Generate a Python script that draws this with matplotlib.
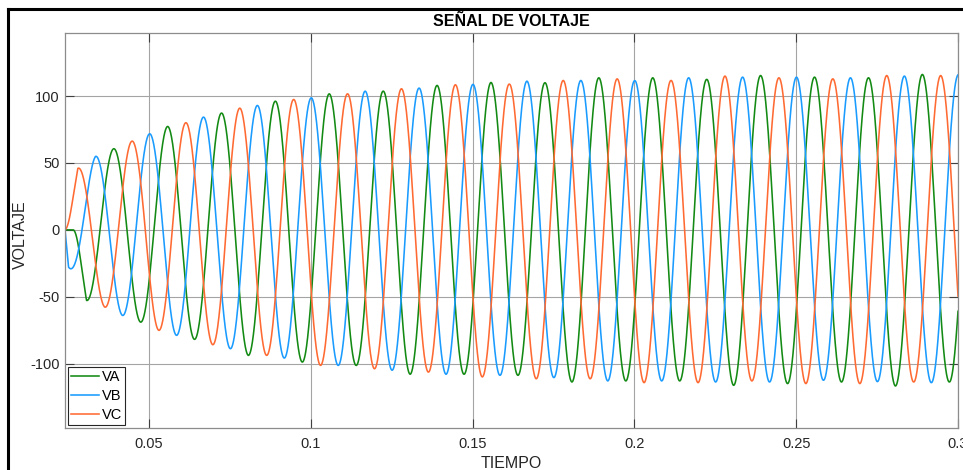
import numpy as np
import matplotlib
matplotlib.use("Agg")
import matplotlib.pyplot as plt
from matplotlib.lines import Line2D

plt.rcParams['font.family'] = ['Liberation Sans', 'DejaVu Sans']

# ---------------- data ----------------
T_START = 0.024          # signals start from 0 here
T_END = 0.3
FREQ = 60.0              # Hz

# time of the first extremum of each phase (s)
VA_T_FIRST = 0.03066
VB_T_FIRST = 0.02509
VC_T_FIRST = 0.02798

# successive extremum values (peaks / troughs) of each phase
VA_EXT = [-52.8, 60.6, -69.0, 77.3, -81.9, 87.3, -93.9, 96.2, -98.9, 101.7,
          -101.4, 103.7, -108.0, 108.0, -108.0, 110.2, -108.8, 110.0, -113.8, 113.7,
          -113.0, 113.7, -113.0, 112.5, -116.3, 115.4, -115.0, 114.2, -113.8, 113.7,
          -116.8, 116.2, -113.8, 115.0]
VB_EXT = [-27.9, 54.9, -64.0, 71.8, -78.9, 84.3, -88.9, 93.0, -95.9, 98.7,
          -101.4, 103.7, -105.0, 106.0, -108.0, 108.8, -108.8, 111.2, -110.5, 111.7,
          -113.0, 111.6, -113.0, 113.7, -113.8, 114.2, -113.8, 114.2, -112.5, 113.7,
          -113.5, 115.0, -114.3, 116.0]
VC_EXT = [46.0, -57.8, 66.3, -75.2, 80.1, -85.9, 91.0, -93.9, 97.5, -101.4,
          101.7, -103.9, 105.5, -106.4, 108.5, -110.0, 109.0, -111.4, 111.7, -111.4,
          112.9, -114.3, 111.7, -114.3, 115.0, -113.0, 113.7, -115.0, 112.9, -115.0,
          115.4, -113.8, 115.4, -114.0]

SERIES = ["VA", "VB", "VC"]
COLORS = {"VA": "#138a13", "VB": "#1a9bff", "VC": "#ff6a33"}

X_TICKS = [0.05, 0.1, 0.15, 0.2, 0.25, 0.3]
X_TICK_LABELS = ["0.05", "0.1", "0.15", "0.2", "0.25", "0.3"]
Y_TICKS = [-100, -50, 0, 50, 100]
Y_TICK_LABELS = ["-100", "-50", "0", "50", "100"]


def waveform(t, t_first, ext):
    half = 0.5 / FREQ
    ext = np.asarray(ext, dtype=float)
    te = t_first + half * np.arange(len(ext))
    # the signal stays at zero until its first swing toward the first extremum
    t_on = max(T_START, t_first - half / 2)
    env = np.interp(t, np.concatenate([[t_on], te]),
                    np.concatenate([[0.0], np.abs(ext)]))
    env[t < t_on] = 0.0
    sign = np.sign(ext[0])
    return sign * env * np.cos(2 * np.pi * FREQ * (t - t_first))


t = np.linspace(T_START, T_END, 6000)
data = {
    "VA": waveform(t, VA_T_FIRST, VA_EXT),
    "VB": waveform(t, VB_T_FIRST, VB_EXT),
    "VC": waveform(t, VC_T_FIRST, VC_EXT),
}

# ---------------- figure ----------------
fig = plt.figure(figsize=(9.63, 4.70), dpi=100)
W, H = 963, 470
L, R, TOP, BOT = 65, 958, 33.3, 427.7
ax = fig.add_axes([L / W, 1 - BOT / H, (R - L) / W, (BOT - TOP) / H])

for name in SERIES:
    ax.plot(t, data[name], color=COLORS[name], lw=1.15, label=name)

ax.set_xlim(T_START, T_END)
ax.set_ylim(-148, 147)
ax.set_xticks(X_TICKS)
ax.set_xticklabels(X_TICK_LABELS)
ax.set_yticks(Y_TICKS)
ax.set_yticklabels(Y_TICK_LABELS)

ax.grid(True, color="#a4a4a4", lw=0.8)
ax.set_axisbelow(True)
for sp in ax.spines.values():
    sp.set_color("#8c8c8c")
    sp.set_linewidth(0.9)
ax.tick_params(direction="in", length=6.5, width=0.8, color="#404040",
               labelsize=10.5, labelcolor="#262626", top=True, right=True)
ax.tick_params(axis="x", pad=7)
ax.tick_params(axis="y", pad=4)

ax.set_title("SEÑAL DE VOLTAJE", fontsize=11.5, fontweight="bold", pad=5)
ax.set_xlabel("TIEMPO", fontsize=11.5, color="#262626", labelpad=3)
fig.text(20.5 / W, 1 - 235 / H, "VOLTAJE", rotation=90, ha="center", va="center",
         fontsize=11.5, color="#262626")

leg = ax.legend(loc="lower left", fontsize=10.5, frameon=True, fancybox=False,
                edgecolor="#262626", framealpha=1, borderaxespad=0.18,
                handlelength=1.9, handletextpad=0.2, labelspacing=0.33,
                borderpad=0.22)
leg.get_frame().set_linewidth(0.8)

# outer figure border (top and left visible)
fig.add_artist(Line2D([8 / W, 1], [1 - 9 / H, 1 - 9 / H], color="black", lw=2.2,
                      transform=fig.transFigure))
fig.add_artist(Line2D([8 / W, 8 / W], [0, 1 - 9 / H], color="black", lw=2.2,
                      transform=fig.transFigure))

fig.savefig("out.png", dpi=100)
